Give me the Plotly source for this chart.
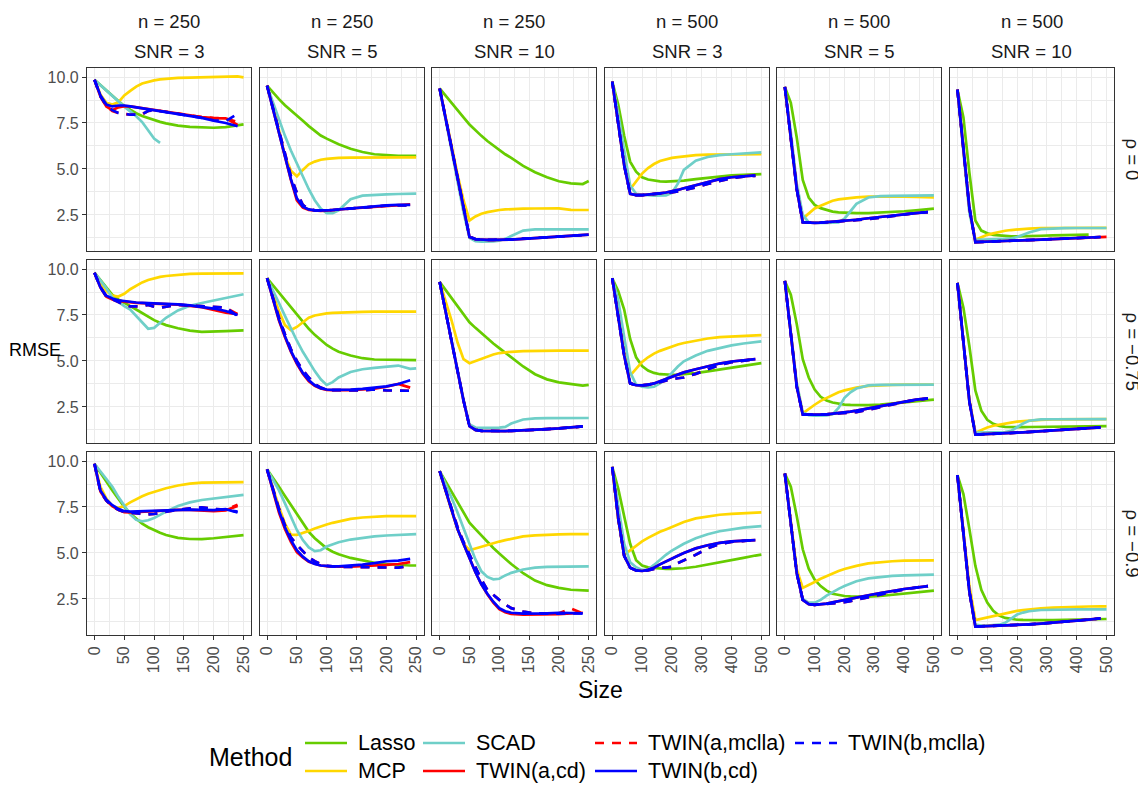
import plotly.graph_objects as go

N = None

# ---------------- data ----------------
X_SMALL = [0, 10, 20, 30, 40, 50, 60, 70, 80, 90, 100, 110, 120, 140, 160, 180, 200, 220, 240, 250]
X_LARGE = [0, 20, 40, 60, 80, 100, 120, 140, 160, 180, 200, 220, 240, 280, 320, 360, 400, 440, 480, 500]

N_LABELS = ["n = 250", "n = 250", "n = 250", "n = 500", "n = 500", "n = 500"]
SNR_LABELS = ["SNR = 3", "SNR = 5", "SNR = 10", "SNR = 3", "SNR = 5", "SNR = 10"]
RHO_LABELS = ["\u03c1 = 0", "\u03c1 = \u22120.75", "\u03c1 = \u22120.9"]

METHODS = ["Lasso", "MCP", "SCAD", "TWIN(a,cd)", "TWIN(a,mclla)", "TWIN(b,cd)", "TWIN(b,mclla)"]

Y_TICKS = [2.5, 5.0, 7.5, 10.0]
Y_TICKTEXT = ["2.5", "5.0", "7.5", "10.0"]
X_TICKS_SMALL = [0, 50, 100, 150, 200, 250]
X_TICKS_LARGE = [0, 100, 200, 300, 400, 500]

# ---- rho = 0 ----
LASSO_R1 = [
    [9.85, 9.55, 9.27, 8.98, 8.70, 8.42, 8.22, 8.03, 7.88, 7.76, 7.66, 7.56, 7.48, 7.36, 7.29, 7.25, 7.24, 7.28, 7.36, 7.42],
    [9.53, 9.15, 8.80, 8.47, 8.17, 7.90, 7.62, 7.33, 7.05, 6.82, 6.65, 6.50, 6.35, 6.10, 5.92, 5.80, 5.74, 5.72, 5.72, 5.72],
    [9.38, 9.00, 8.60, 8.20, 7.80, 7.42, 7.10, 6.80, 6.52, 6.27, 6.03, 5.80, 5.60, 5.17, 4.82, 4.55, 4.33, 4.22, 4.18, 4.35],
    [9.75, 8.50, 6.80, 5.40, 4.85, 4.55, 4.43, 4.37, 4.33, 4.31, 4.32, 4.34, 4.37, 4.45, 4.52, 4.60, 4.65, 4.68, 4.70, 4.72],
    [9.46, 8.60, 6.70, 4.40, 3.45, 3.05, 2.87, 2.76, 2.68, 2.64, 2.62, 2.61, 2.60, 2.60, 2.62, 2.66, 2.70, 2.75, 2.80, 2.84],
    [9.31, 7.80, 4.80, 2.20, 1.65, 1.50, 1.42, 1.38, 1.35, 1.34, 1.34, 1.34, 1.35, 1.37, 1.39, 1.41, 1.42, 1.43, N, N],
]
MCP_R1 = [
    [9.85, 9.05, 8.60, 8.50, 8.62, 9.00, 9.25, 9.48, 9.65, 9.75, 9.82, 9.87, 9.90, 9.95, 9.97, 9.98, 9.99, 10.00, 10.03, 9.98],
    [9.53, 8.40, 7.10, 5.70, 4.90, 4.60, 4.95, 5.25, 5.40, 5.50, 5.55, 5.58, 5.60, 5.62, 5.63, 5.63, 5.63, 5.63, 5.63, 5.63],
    [9.38, 7.80, 6.20, 4.70, 3.30, 2.20, 2.42, 2.57, 2.65, 2.72, 2.77, 2.80, 2.82, 2.84, 2.85, 2.86, 2.86, 2.78, 2.77, 2.77],
    [9.75, 7.60, 5.30, 3.90, 4.35, 4.75, 5.05, 5.27, 5.43, 5.53, 5.60, 5.64, 5.68, 5.75, 5.78, 5.79, 5.80, 5.80, 5.80, 5.80],
    [9.46, 6.80, 4.00, 2.30, 2.60, 2.85, 3.00, 3.15, 3.27, 3.35, 3.40, 3.43, 3.46, 3.50, 3.51, 3.51, 3.50, 3.48, 3.47, 3.46],
    [9.31, 6.00, 2.80, 1.15, 1.30, 1.42, 1.50, 1.58, 1.64, 1.68, 1.72, 1.74, 1.76, 1.79, 1.80, 1.80, 1.80, 1.80, 1.80, 1.80],
]
SCAD_R1 = [
    [9.85, 9.55, 9.25, 8.97, 8.68, 8.39, 8.13, 7.87, 7.55, 7.08, 6.65, 6.42, N, N, N, N, N, N, N, N],
    [9.53, 8.60, 7.70, 6.80, 6.00, 5.30, 4.60, 3.90, 3.30, 2.85, 2.60, 2.60, 2.75, 3.35, 3.55, 3.60, 3.62, 3.64, 3.66, 3.66],
    [9.38, 7.70, 6.00, 4.30, 2.65, 1.25, 1.08, 1.05, 1.05, 1.06, 1.10, 1.20, 1.35, 1.65, 1.72, 1.72, 1.72, 1.72, 1.72, 1.72],
    [9.75, 8.00, 6.00, 4.10, 3.65, 3.60, 3.57, 3.55, 3.54, 3.56, 3.70, 4.20, 4.95, 5.45, 5.65, 5.75, 5.80, 5.85, 5.88, 5.90],
    [9.46, 7.00, 4.20, 2.50, 2.10, 2.07, 2.07, 2.07, 2.08, 2.10, 2.30, 2.70, 3.10, 3.45, 3.52, 3.54, 3.55, 3.55, 3.56, 3.56],
    [9.31, 5.90, 2.60, 1.15, 1.15, 1.17, 1.18, 1.19, 1.20, 1.22, 1.30, 1.42, 1.55, 1.73, 1.77, 1.78, 1.79, 1.79, 1.79, 1.79],
]
TWIN_A_CD_R1 = [
    [9.85, 8.95, 8.40, 8.20, 8.35, 8.42, 8.40, 8.35, 8.30, 8.25, 8.20, 8.15, 8.10, 8.00, 7.90, 7.82, 7.77, 7.75, 7.40, N],
    [9.53, 8.25, 6.95, 5.65, 4.40, 3.30, 2.90, 2.78, 2.73, 2.72, 2.73, 2.75, 2.78, 2.85, 2.90, 2.95, 3.00, 3.05, 3.08, N],
    [9.38, 7.75, 6.10, 4.50, 2.85, 1.30, 1.18, 1.15, 1.14, 1.14, 1.14, 1.15, 1.16, 1.20, 1.24, 1.28, 1.32, 1.35, 1.40, 1.43],
    [9.75, 7.50, 5.20, 3.65, 3.58, 3.58, 3.60, 3.63, 3.67, 3.72, 3.78, 3.86, 3.95, 4.12, 4.30, 4.45, 4.55, 4.60, 4.65, N],
    [9.46, 6.70, 3.90, 2.10, 2.07, 2.07, 2.08, 2.10, 2.12, 2.15, 2.18, 2.21, 2.24, 2.32, 2.40, 2.48, 2.55, 2.60, 2.66, N],
    [9.31, 6.00, 2.90, 1.02, 1.03, 1.04, 1.05, 1.06, 1.08, 1.09, 1.10, 1.11, 1.13, 1.16, 1.19, 1.22, 1.25, 1.27, 1.30, 1.31],
]
TWIN_A_MCLLA_R1 = [
    [9.85, 8.95, 8.40, 8.15, 8.05, 7.98, 7.95, 7.95, 7.98, 8.15, 8.20, 8.15, 8.10, 8.00, 7.90, 7.82, 7.77, 7.75, 7.55, N],
    [9.53, 8.35, 7.10, 5.85, 4.60, 3.70, 3.05, 2.82, 2.75, 2.74, 2.75, 2.77, 2.80, 2.85, 2.90, 2.95, 3.00, 3.02, 3.03, N],
    [9.38, 7.75, 6.10, 4.50, 2.85, 1.32, 1.19, 1.16, 1.15, 1.15, 1.15, 1.16, 1.17, 1.21, 1.25, 1.29, 1.33, 1.36, 1.40, 1.42],
    [9.75, 7.50, 5.20, 3.65, 3.58, 3.58, 3.60, 3.62, 3.65, 3.68, 3.72, 3.78, 3.85, 4.00, 4.18, 4.35, 4.50, 4.58, 4.63, N],
    [9.46, 6.70, 3.90, 2.10, 2.07, 2.07, 2.08, 2.10, 2.12, 2.15, 2.18, 2.20, 2.22, 2.27, 2.35, 2.45, 2.53, 2.60, 2.65, N],
    [9.31, 6.00, 2.90, 1.02, 1.03, 1.04, 1.05, 1.06, 1.08, 1.09, 1.10, 1.11, 1.13, 1.16, 1.19, 1.22, 1.25, 1.27, 1.30, N],
]
TWIN_B_CD_R1 = [
    [9.85, 9.00, 8.50, 8.40, 8.45, 8.45, 8.40, 8.35, 8.30, 8.25, 8.20, 8.15, 8.10, 8.00, 7.90, 7.78, 7.62, 7.50, 7.32, N],
    [9.53, 8.30, 7.00, 5.70, 4.45, 3.40, 2.95, 2.80, 2.75, 2.74, 2.75, 2.77, 2.80, 2.87, 2.92, 2.97, 3.02, 3.05, 3.05, N],
    [9.38, 7.75, 6.10, 4.50, 2.85, 1.30, 1.18, 1.15, 1.14, 1.14, 1.14, 1.15, 1.16, 1.20, 1.24, 1.28, 1.32, 1.35, 1.40, 1.43],
    [9.75, 7.50, 5.20, 3.65, 3.58, 3.58, 3.60, 3.63, 3.67, 3.72, 3.78, 3.86, 3.95, 4.12, 4.30, 4.45, 4.55, 4.60, 4.65, N],
    [9.46, 6.70, 3.90, 2.10, 2.07, 2.07, 2.08, 2.10, 2.12, 2.15, 2.18, 2.21, 2.24, 2.32, 2.40, 2.48, 2.55, 2.60, 2.66, N],
    [9.31, 6.00, 2.90, 1.02, 1.03, 1.04, 1.05, 1.06, 1.08, 1.09, 1.10, 1.11, 1.13, 1.16, 1.19, 1.22, 1.25, 1.27, 1.30, N],
]
TWIN_B_MCLLA_R1 = [
    [9.85, 8.95, 8.45, 8.20, 8.05, 7.98, 7.95, 7.95, 7.98, 8.15, 8.20, 8.15, 8.10, 8.00, 7.90, 7.78, 7.65, 7.60, 8.00, N],
    [9.53, 8.35, 7.10, 5.85, 4.60, 3.70, 3.05, 2.82, 2.75, 2.74, 2.75, 2.77, 2.80, 2.85, 2.90, 2.95, 3.00, 3.02, 3.03, N],
    [9.38, 7.75, 6.10, 4.50, 2.85, 1.32, 1.19, 1.16, 1.15, 1.15, 1.15, 1.16, 1.17, 1.21, 1.25, 1.29, 1.33, 1.36, 1.40, 1.42],
    [9.75, 7.50, 5.20, 3.65, 3.58, 3.58, 3.60, 3.62, 3.65, 3.68, 3.72, 3.78, 3.85, 4.00, 4.18, 4.35, 4.50, 4.58, 4.63, N],
    [9.46, 6.70, 3.90, 2.10, 2.07, 2.07, 2.08, 2.10, 2.12, 2.15, 2.18, 2.20, 2.22, 2.27, 2.35, 2.45, 2.53, 2.60, 2.65, N],
    [9.31, 6.00, 2.90, 1.02, 1.03, 1.04, 1.05, 1.06, 1.08, 1.09, 1.10, 1.11, 1.13, 1.16, 1.19, 1.22, 1.25, 1.27, 1.30, N],
]

# ---- rho = -0.75 ----
LASSO_R2 = [
    [9.80, 9.40, 8.95, 8.60, 8.35, 8.15, 7.98, 7.80, 7.60, 7.40, 7.22, 7.08, 6.95, 6.78, 6.65, 6.58, 6.58, 6.62, 6.65, 6.66],
    [9.50, 9.10, 8.70, 8.30, 7.90, 7.50, 7.10, 6.75, 6.42, 6.12, 5.87, 5.67, 5.50, 5.30, 5.15, 5.08, 5.06, 5.05, 5.05, 5.05],
    [9.30, 8.85, 8.40, 7.95, 7.52, 7.10, 6.80, 6.50, 6.22, 5.95, 5.70, 5.45, 5.20, 4.70, 4.28, 4.00, 3.84, 3.74, 3.66, 3.70],
    [9.50, 8.80, 7.80, 6.20, 5.20, 4.72, 4.48, 4.35, 4.28, 4.25, 4.25, 4.26, 4.28, 4.34, 4.43, 4.53, 4.63, 4.73, 4.83, 4.88],
    [9.35, 8.60, 7.00, 5.10, 4.10, 3.45, 3.05, 2.85, 2.74, 2.67, 2.63, 2.61, 2.60, 2.60, 2.63, 2.68, 2.74, 2.80, 2.87, 2.90],
    [9.25, 7.90, 5.80, 3.40, 2.30, 1.80, 1.58, 1.47, 1.42, 1.40, 1.40, 1.40, 1.41, 1.42, 1.43, 1.44, 1.45, 1.45, 1.46, 1.46],
]
MCP_R2 = [
    [9.80, 9.20, 8.80, 8.55, 8.50, 8.65, 8.90, 9.10, 9.27, 9.40, 9.50, 9.57, 9.62, 9.70, 9.74, 9.75, 9.76, 9.76, 9.76, 9.76],
    [9.50, 8.60, 7.70, 6.95, 6.68, 6.85, 7.10, 7.35, 7.47, 7.54, 7.59, 7.61, 7.63, 7.65, 7.67, 7.68, 7.68, 7.68, 7.68, 7.68],
    [9.30, 8.30, 7.20, 6.00, 5.10, 4.88, 5.00, 5.12, 5.25, 5.35, 5.43, 5.47, 5.50, 5.53, 5.55, 5.56, 5.56, 5.56, 5.56, 5.56],
    [9.50, 7.50, 5.50, 4.20, 4.60, 4.95, 5.20, 5.40, 5.55, 5.68, 5.80, 5.90, 5.98, 6.12, 6.22, 6.30, 6.34, 6.37, 6.39, 6.40],
    [9.35, 6.40, 3.70, 2.15, 2.40, 2.62, 2.83, 3.00, 3.17, 3.30, 3.40, 3.48, 3.55, 3.65, 3.69, 3.70, 3.71, 3.71, 3.71, 3.71],
    [9.25, 6.00, 2.90, 1.10, 1.25, 1.38, 1.48, 1.55, 1.60, 1.65, 1.70, 1.73, 1.76, 1.80, 1.82, 1.83, 1.84, 1.84, 1.84, 1.84],
]
SCAD_R2 = [
    [9.80, 9.40, 8.95, 8.45, 8.20, 7.98, 7.80, 7.45, 7.05, 6.75, 6.80, 7.05, 7.35, 7.75, 8.00, 8.15, 8.28, 8.40, 8.55, 8.63],
    [9.50, 8.85, 8.15, 7.45, 6.75, 6.10, 5.50, 4.95, 4.45, 4.00, 3.70, 3.85, 4.10, 4.40, 4.55, 4.62, 4.68, 4.75, 4.57, 4.60],
    [9.30, 7.70, 6.05, 4.45, 2.90, 1.55, 1.38, 1.36, 1.36, 1.37, 1.38, 1.42, 1.60, 1.82, 1.88, 1.89, 1.90, 1.90, 1.90, 1.90],
    [9.50, 8.30, 6.30, 4.40, 3.72, 3.60, 3.57, 3.60, 3.78, 4.00, 4.35, 4.70, 4.98, 5.30, 5.55, 5.72, 5.85, 5.95, 6.03, 6.07],
    [9.35, 6.50, 3.80, 2.20, 2.05, 2.03, 2.03, 2.04, 2.10, 2.45, 3.00, 3.30, 3.50, 3.67, 3.70, 3.71, 3.71, 3.71, 3.71, 3.71],
    [9.25, 6.00, 2.80, 1.10, 1.10, 1.11, 1.12, 1.12, 1.13, 1.20, 1.42, 1.60, 1.75, 1.82, 1.83, 1.84, 1.84, 1.84, 1.84, 1.84],
]
TWIN_A_CD_R2 = [
    [9.80, 9.00, 8.50, 8.35, 8.27, 8.22, 8.18, 8.16, 8.14, 8.13, 8.12, 8.11, 8.10, 8.06, 8.00, 7.92, 7.78, 7.62, 7.55, N],
    [9.50, 8.30, 7.20, 6.30, 5.50, 4.85, 4.30, 3.90, 3.65, 3.50, 3.43, 3.41, 3.40, 3.42, 3.46, 3.50, 3.60, 3.75, 3.55, N],
    [9.30, 7.65, 6.00, 4.40, 2.85, 1.45, 1.25, 1.20, 1.19, 1.19, 1.19, 1.19, 1.20, 1.22, 1.25, 1.29, 1.33, 1.38, 1.44, N],
    [9.50, 7.40, 5.30, 3.78, 3.68, 3.67, 3.70, 3.78, 3.90, 4.03, 4.15, 4.27, 4.38, 4.55, 4.72, 4.86, 4.97, 5.05, 5.10, N],
    [9.35, 6.30, 3.60, 2.08, 2.07, 2.07, 2.08, 2.10, 2.13, 2.17, 2.21, 2.25, 2.30, 2.42, 2.55, 2.68, 2.80, 2.90, 2.97, N],
    [9.25, 6.00, 2.80, 1.00, 1.01, 1.02, 1.04, 1.05, 1.07, 1.08, 1.10, 1.12, 1.14, 1.18, 1.22, 1.26, 1.30, 1.35, 1.39, N],
]
TWIN_A_MCLLA_R2 = [
    [9.80, 9.00, 8.50, 8.35, 8.20, 8.05, 7.97, 7.95, 7.97, 8.05, 7.95, 7.90, 7.95, 8.05, 8.02, 7.97, 7.95, 7.90, 7.55, N],
    [9.50, 8.40, 7.35, 6.45, 5.65, 5.00, 4.50, 4.10, 3.75, 3.55, 3.45, 3.42, 3.40, 3.40, 3.40, 3.45, 3.40, 3.38, 3.38, N],
    [9.30, 7.65, 6.00, 4.40, 2.85, 1.45, 1.25, 1.20, 1.19, 1.19, 1.19, 1.19, 1.20, 1.22, 1.25, 1.29, 1.33, 1.38, 1.44, N],
    [9.50, 7.40, 5.30, 3.78, 3.68, 3.67, 3.70, 3.76, 3.85, 3.95, 4.02, 4.06, 4.10, 4.30, 4.55, 4.78, 4.93, 5.03, 5.10, N],
    [9.35, 6.30, 3.60, 2.08, 2.07, 2.07, 2.08, 2.10, 2.12, 2.15, 2.18, 2.20, 2.22, 2.35, 2.50, 2.63, 2.77, 2.88, 2.96, N],
    [9.25, 6.00, 2.80, 1.00, 1.01, 1.02, 1.04, 1.05, 1.07, 1.08, 1.10, 1.12, 1.14, 1.18, 1.22, 1.26, 1.30, 1.35, 1.39, N],
]
TWIN_B_CD_R2 = [
    [9.80, 9.00, 8.55, 8.40, 8.30, 8.25, 8.20, 8.18, 8.16, 8.15, 8.14, 8.13, 8.12, 8.08, 8.02, 7.95, 7.85, 7.72, 7.50, N],
    [9.50, 8.35, 7.25, 6.35, 5.55, 4.90, 4.35, 3.95, 3.68, 3.52, 3.45, 3.43, 3.42, 3.44, 3.48, 3.53, 3.62, 3.75, 3.95, N],
    [9.30, 7.65, 6.00, 4.40, 2.85, 1.45, 1.25, 1.20, 1.19, 1.19, 1.19, 1.19, 1.20, 1.22, 1.25, 1.29, 1.33, 1.38, 1.44, N],
    [9.50, 7.40, 5.30, 3.78, 3.68, 3.67, 3.70, 3.78, 3.90, 4.03, 4.15, 4.27, 4.38, 4.55, 4.72, 4.86, 4.97, 5.05, 5.10, N],
    [9.35, 6.30, 3.60, 2.08, 2.07, 2.07, 2.08, 2.10, 2.13, 2.17, 2.21, 2.25, 2.30, 2.42, 2.55, 2.68, 2.80, 2.90, 2.97, N],
    [9.25, 6.00, 2.80, 1.00, 1.01, 1.02, 1.04, 1.05, 1.07, 1.08, 1.10, 1.12, 1.14, 1.18, 1.22, 1.26, 1.30, 1.35, 1.39, N],
]
TWIN_B_MCLLA_R2 = [
    [9.80, 9.00, 8.50, 8.35, 8.20, 8.05, 7.97, 7.95, 7.97, 8.05, 7.95, 7.90, 7.95, 8.05, 8.02, 7.97, 7.95, 7.90, 7.45, N],
    [9.50, 8.40, 7.35, 6.45, 5.65, 5.00, 4.50, 4.10, 3.75, 3.55, 3.45, 3.42, 3.40, 3.40, 3.40, 3.45, 3.40, 3.38, 3.38, N],
    [9.30, 7.65, 6.00, 4.40, 2.85, 1.45, 1.25, 1.20, 1.19, 1.19, 1.19, 1.19, 1.20, 1.22, 1.25, 1.29, 1.33, 1.38, 1.44, N],
    [9.50, 7.40, 5.30, 3.78, 3.68, 3.67, 3.70, 3.76, 3.85, 3.95, 4.02, 4.06, 4.10, 4.30, 4.55, 4.78, 4.93, 5.03, 5.10, N],
    [9.35, 6.30, 3.60, 2.08, 2.07, 2.07, 2.08, 2.10, 2.12, 2.15, 2.18, 2.20, 2.22, 2.35, 2.50, 2.63, 2.77, 2.88, 2.96, N],
    [9.25, 6.00, 2.80, 1.00, 1.01, 1.02, 1.04, 1.05, 1.07, 1.08, 1.10, 1.12, 1.14, 1.18, 1.22, 1.26, 1.30, 1.35, 1.39, N],
]

# ---- rho = -0.9 ----
LASSO_R3 = [
    [9.85, 9.35, 8.85, 8.40, 7.95, 7.50, 7.15, 6.85, 6.60, 6.40, 6.23, 6.10, 5.98, 5.82, 5.76, 5.75, 5.80, 5.86, 5.93, 5.97],
    [9.55, 9.10, 8.60, 8.10, 7.60, 7.10, 6.60, 6.15, 5.80, 5.50, 5.25, 5.07, 4.93, 4.73, 4.58, 4.47, 4.40, 4.35, 4.32, 4.32],
    [9.45, 8.90, 8.35, 7.80, 7.20, 6.65, 6.30, 5.95, 5.60, 5.27, 4.97, 4.68, 4.40, 3.90, 3.50, 3.25, 3.10, 3.00, 2.96, 2.95],
    [9.68, 8.50, 7.00, 5.50, 4.60, 4.32, 4.22, 4.18, 4.15, 4.14, 4.14, 4.15, 4.17, 4.25, 4.36, 4.48, 4.60, 4.73, 4.86, 4.91],
    [9.32, 8.60, 7.00, 5.20, 4.15, 3.55, 3.20, 2.95, 2.78, 2.70, 2.66, 2.64, 2.63, 2.63, 2.66, 2.72, 2.78, 2.84, 2.90, 2.95],
    [9.23, 8.20, 6.30, 4.30, 3.00, 2.30, 1.85, 1.60, 1.47, 1.40, 1.37, 1.36, 1.35, 1.34, 1.35, 1.36, 1.37, 1.39, 1.40, 1.41],
]
MCP_R3 = [
    [9.85, 8.60, 7.95, 7.55, 7.45, 7.55, 7.75, 7.93, 8.08, 8.22, 8.33, 8.43, 8.52, 8.67, 8.77, 8.82, 8.84, 8.85, 8.85, 8.85],
    [9.55, 8.50, 7.50, 6.60, 6.00, 5.98, 6.08, 6.20, 6.33, 6.45, 6.55, 6.64, 6.72, 6.85, 6.93, 6.98, 7.00, 7.00, 7.00, 7.00],
    [9.45, 8.35, 7.30, 6.30, 5.50, 5.15, 5.25, 5.35, 5.45, 5.53, 5.62, 5.70, 5.78, 5.90, 5.96, 6.00, 6.01, 6.02, 6.02, 6.02],
    [9.68, 6.80, 4.90, 5.15, 5.40, 5.63, 5.82, 6.00, 6.15, 6.28, 6.42, 6.55, 6.68, 6.88, 7.00, 7.08, 7.13, 7.17, 7.20, 7.21],
    [9.32, 6.70, 4.10, 3.10, 3.25, 3.42, 3.60, 3.75, 3.90, 4.02, 4.13, 4.22, 4.30, 4.43, 4.50, 4.55, 4.58, 4.59, 4.60, 4.60],
    [9.23, 6.20, 3.20, 1.35, 1.42, 1.52, 1.60, 1.67, 1.73, 1.79, 1.85, 1.89, 1.93, 1.99, 2.03, 2.06, 2.08, 2.09, 2.10, 2.10],
]
SCAD_R3 = [
    [9.85, 9.45, 9.05, 8.60, 8.05, 7.55, 7.10, 6.80, 6.72, 6.78, 6.90, 7.07, 7.25, 7.55, 7.75, 7.88, 7.97, 8.05, 8.12, 8.16],
    [9.55, 9.00, 8.40, 7.70, 6.95, 6.25, 5.70, 5.30, 5.10, 5.15, 5.35, 5.48, 5.58, 5.73, 5.83, 5.90, 5.95, 5.98, 6.00, 6.02],
    [9.45, 8.75, 8.00, 7.20, 6.35, 5.50, 4.65, 4.00, 3.70, 3.57, 3.60, 3.78, 3.92, 4.10, 4.20, 4.24, 4.26, 4.27, 4.27, 4.27],
    [9.68, 7.50, 5.50, 4.50, 4.22, 4.08, 4.10, 4.35, 4.65, 4.90, 5.13, 5.33, 5.50, 5.80, 6.02, 6.18, 6.30, 6.38, 6.43, 6.46],
    [9.32, 6.60, 3.90, 2.50, 2.30, 2.30, 2.45, 2.68, 2.88, 3.05, 3.20, 3.34, 3.46, 3.62, 3.70, 3.75, 3.78, 3.80, 3.82, 3.82],
    [9.23, 6.00, 2.90, 1.10, 1.05, 1.05, 1.07, 1.10, 1.20, 1.45, 1.65, 1.76, 1.83, 1.90, 1.92, 1.93, 1.93, 1.93, 1.93, 1.93],
]
TWIN_A_CD_R3 = [
    [9.85, 8.35, 7.85, 7.55, 7.35, 7.22, 7.20, 7.22, 7.24, 7.26, 7.28, 7.30, 7.32, 7.34, 7.34, 7.30, 7.28, 7.32, 7.55, N],
    [9.55, 8.40, 7.20, 6.30, 5.60, 5.05, 4.75, 4.52, 4.40, 4.32, 4.28, 4.26, 4.25, 4.25, 4.27, 4.30, 4.35, 4.40, 4.50, N],
    [9.45, 8.40, 7.35, 6.30, 5.50, 4.70, 3.95, 3.30, 2.75, 2.30, 1.95, 1.78, 1.68, 1.65, 1.65, 1.66, 1.68, 1.72, 1.75, N],
    [9.68, 6.90, 4.85, 4.20, 4.05, 4.02, 4.08, 4.20, 4.38, 4.55, 4.70, 4.85, 5.00, 5.25, 5.42, 5.55, 5.63, 5.68, 5.70, N],
    [9.32, 6.60, 3.90, 2.45, 2.22, 2.18, 2.20, 2.25, 2.31, 2.38, 2.44, 2.50, 2.56, 2.70, 2.82, 2.94, 3.04, 3.12, 3.20, N],
    [9.23, 6.00, 2.90, 1.00, 1.01, 1.02, 1.03, 1.04, 1.06, 1.07, 1.09, 1.10, 1.12, 1.16, 1.20, 1.26, 1.32, 1.38, 1.44, N],
]
TWIN_A_MCLLA_R3 = [
    [9.85, 8.35, 7.85, 7.55, 7.35, 7.22, 7.18, 7.15, 7.12, 7.10, 7.12, 7.18, 7.25, 7.35, 7.42, 7.48, 7.40, 7.35, 7.62, N],
    [9.55, 8.50, 7.40, 6.50, 5.85, 5.45, 5.10, 4.75, 4.55, 4.40, 4.30, 4.27, 4.25, 4.24, 4.24, 4.24, 4.22, 4.20, 4.30, N],
    [9.45, 8.40, 7.40, 6.40, 5.60, 4.90, 4.20, 3.55, 3.00, 2.70, 2.45, 2.20, 2.00, 1.82, 1.72, 1.70, 1.72, 1.98, 1.72, N],
    [9.68, 6.90, 4.85, 4.20, 4.05, 4.02, 4.05, 4.12, 4.20, 4.20, 4.25, 4.45, 4.60, 4.90, 5.25, 5.48, 5.60, 5.67, 5.70, N],
    [9.32, 6.60, 3.90, 2.45, 2.22, 2.18, 2.20, 2.23, 2.26, 2.28, 2.32, 2.38, 2.45, 2.58, 2.75, 2.90, 3.02, 3.12, 3.20, N],
    [9.23, 6.00, 2.90, 1.00, 1.01, 1.02, 1.03, 1.04, 1.06, 1.07, 1.09, 1.10, 1.12, 1.16, 1.20, 1.26, 1.32, 1.38, 1.44, N],
]
TWIN_B_CD_R3 = [
    [9.85, 8.40, 7.90, 7.60, 7.40, 7.27, 7.25, 7.26, 7.27, 7.28, 7.30, 7.32, 7.34, 7.36, 7.36, 7.34, 7.33, 7.38, 7.20, N],
    [9.55, 8.45, 7.30, 6.40, 5.70, 5.15, 4.80, 4.55, 4.40, 4.32, 4.28, 4.27, 4.27, 4.30, 4.37, 4.45, 4.55, 4.58, 4.68, N],
    [9.45, 8.40, 7.35, 6.30, 5.50, 4.70, 3.95, 3.30, 2.78, 2.35, 2.00, 1.83, 1.75, 1.70, 1.70, 1.72, 1.75, 1.75, 1.72, N],
    [9.68, 6.90, 4.85, 4.20, 4.05, 4.02, 4.08, 4.20, 4.38, 4.55, 4.70, 4.85, 5.00, 5.25, 5.42, 5.55, 5.63, 5.68, 5.70, N],
    [9.32, 6.60, 3.90, 2.45, 2.22, 2.18, 2.20, 2.25, 2.31, 2.38, 2.44, 2.50, 2.56, 2.70, 2.82, 2.94, 3.04, 3.12, 3.20, N],
    [9.23, 6.00, 2.90, 1.00, 1.01, 1.02, 1.03, 1.04, 1.06, 1.07, 1.09, 1.10, 1.12, 1.16, 1.20, 1.26, 1.32, 1.38, 1.44, N],
]
TWIN_B_MCLLA_R3 = [
    [9.85, 8.35, 7.85, 7.55, 7.35, 7.22, 7.18, 7.15, 7.12, 7.10, 7.12, 7.18, 7.25, 7.35, 7.42, 7.48, 7.40, 7.35, 7.25, N],
    [9.55, 8.50, 7.40, 6.50, 5.85, 5.45, 5.10, 4.75, 4.55, 4.40, 4.30, 4.27, 4.25, 4.24, 4.24, 4.24, 4.22, 4.20, 4.30, N],
    [9.45, 8.40, 7.40, 6.40, 5.60, 4.90, 4.20, 3.55, 3.00, 2.70, 2.45, 2.20, 2.00, 1.82, 1.72, 1.70, 1.72, 1.70, 1.72, N],
    [9.68, 6.90, 4.85, 4.20, 4.05, 4.02, 4.05, 4.12, 4.20, 4.20, 4.25, 4.45, 4.60, 4.90, 5.25, 5.48, 5.60, 5.67, 5.70, N],
    [9.32, 6.60, 3.90, 2.45, 2.22, 2.18, 2.20, 2.23, 2.26, 2.28, 2.32, 2.38, 2.45, 2.58, 2.75, 2.90, 3.02, 3.12, 3.20, N],
    [9.23, 6.00, 2.90, 1.00, 1.01, 1.02, 1.03, 1.04, 1.06, 1.07, 1.09, 1.10, 1.12, 1.16, 1.20, 1.26, 1.32, 1.38, 1.44, N],
]

SERIES = {
    "Lasso": [LASSO_R1, LASSO_R2, LASSO_R3],
    "MCP": [MCP_R1, MCP_R2, MCP_R3],
    "SCAD": [SCAD_R1, SCAD_R2, SCAD_R3],
    "TWIN(a,cd)": [TWIN_A_CD_R1, TWIN_A_CD_R2, TWIN_A_CD_R3],
    "TWIN(a,mclla)": [TWIN_A_MCLLA_R1, TWIN_A_MCLLA_R2, TWIN_A_MCLLA_R3],
    "TWIN(b,cd)": [TWIN_B_CD_R1, TWIN_B_CD_R2, TWIN_B_CD_R3],
    "TWIN(b,mclla)": [TWIN_B_MCLLA_R1, TWIN_B_MCLLA_R2, TWIN_B_MCLLA_R3],
}

# ---------------- style ----------------
COLORS = {
    "Lasso": "#66CC00", "MCP": "#FFD700", "SCAD": "#6FCFC8",
    "TWIN(a,cd)": "#FF0000", "TWIN(a,mclla)": "#FF0000",
    "TWIN(b,cd)": "#0000FF", "TWIN(b,mclla)": "#0000FF",
}
DASHES = {
    "Lasso": "solid", "MCP": "solid", "SCAD": "solid",
    "TWIN(a,cd)": "solid", "TWIN(a,mclla)": "9px,8px",
    "TWIN(b,cd)": "solid", "TWIN(b,mclla)": "9px,8px",
}
LW = 2.7
FONT = "Liberation Sans, Arial, Helvetica, sans-serif"
GRID = "#EBEBEB"
BORDER = "#333333"

# The page body has an 8px margin: the figure starts at (8, 8) in the window.
OFF = 8
W, H = 1146 - OFF, 787 - OFF


def px(x):
    return (x - OFF) / W


def py(y):
    return 1 - (y - OFF) / H


COL_LEFT = [87 + c * 172.6 for c in range(6)]
PANEL_W = 164
ROW_TOP = [68, 260, 452]
PANEL_H = 183

fig = go.Figure()
layout = {}

for r in range(3):
    for c in range(6):
        idx = r * 6 + c + 1
        xs = X_SMALL if c < 3 else X_LARGE
        xa = "x" if idx == 1 else f"x{idx}"
        ya = "y" if idx == 1 else f"y{idx}"
        for name in METHODS:
            fig.add_trace(go.Scatter(
                x=xs, y=SERIES[name][r][c], mode="lines", name=name,
                line=dict(color=COLORS[name], width=LW, dash=DASHES[name]),
                xaxis=xa, yaxis=ya, showlegend=False, hoverinfo="skip",
            ))
        left = COL_LEFT[c]
        top = ROW_TOP[r]
        xdom = [px(left), px(left + PANEL_W)]
        ydom = [py(top + PANEL_H), py(top)]
        small = c < 3
        bottom = r == 2
        first = c == 0
        xticks = X_TICKS_SMALL if small else X_TICKS_LARGE
        xminor = [25, 75, 125, 175, 225] if small else [50, 150, 250, 350, 450]
        layout["xaxis" if idx == 1 else f"xaxis{idx}"] = dict(
            domain=xdom, anchor=ya,
            range=[-12.5, 262.5] if small else [-25, 525],
            tickmode="array", tickvals=xticks, ticktext=[str(v) for v in xticks],
            showticklabels=bottom, ticks="outside" if bottom else "",
            ticklen=4, tickwidth=1.1, tickcolor=BORDER, tickangle=-90,
            tickfont=dict(size=16, color="#4D4D4D", family=FONT),
            showgrid=True, gridcolor=GRID, gridwidth=1.1,
            minor=dict(tickmode="array", tickvals=xminor, showgrid=True, gridcolor=GRID, gridwidth=0.6, ticks=""),
            showline=True, mirror=True, linecolor=BORDER, linewidth=1.1,
            zeroline=False, automargin=False, fixedrange=True,
        )
        layout["yaxis" if idx == 1 else f"yaxis{idx}"] = dict(
            domain=ydom, anchor=xa, range=[0.54, 10.49],
            tickmode="array", tickvals=Y_TICKS, ticktext=Y_TICKTEXT,
            showticklabels=first, ticks="outside" if first else "",
            ticklen=4, tickwidth=1.1, tickcolor=BORDER,
            tickfont=dict(size=16, color="#4D4D4D", family=FONT),
            showgrid=True, gridcolor=GRID, gridwidth=1.1,
            minor=dict(tickmode="array", tickvals=[1.25, 3.75, 6.25, 8.75], showgrid=True, gridcolor=GRID, gridwidth=0.6, ticks=""),
            showline=True, mirror=True, linecolor=BORDER, linewidth=1.1,
            zeroline=False, automargin=False, fixedrange=True,
        )

annotations = []
# column strips
for c in range(6):
    cx = px(COL_LEFT[c] + PANEL_W / 2)
    annotations.append(dict(x=cx, y=py(21), xref="paper", yref="paper", text=N_LABELS[c],
                            showarrow=False, xanchor="center", yanchor="middle",
                            font=dict(size=18.5, color="#1A1A1A", family=FONT)))
    annotations.append(dict(x=cx, y=py(52), xref="paper", yref="paper", text=SNR_LABELS[c],
                            showarrow=False, xanchor="center", yanchor="middle",
                            font=dict(size=18.5, color="#1A1A1A", family=FONT)))
# row strips
for r in range(3):
    cy = py(ROW_TOP[r] + PANEL_H / 2)
    annotations.append(dict(x=px(1132), y=cy, xref="paper", yref="paper", text=RHO_LABELS[r],
                            showarrow=False, xanchor="center", yanchor="middle", textangle=90,
                            font=dict(size=18.5, color="#1A1A1A", family=FONT)))
# axis titles
annotations.append(dict(x=px(35), y=py(350), xref="paper", yref="paper", text="RMSE",
                        showarrow=False, xanchor="center", yanchor="middle",
                        font=dict(size=18, color="black", family=FONT)))
annotations.append(dict(x=px(600), y=py(690), xref="paper", yref="paper", text="Size",
                        showarrow=False, xanchor="center", yanchor="middle",
                        font=dict(size=23, color="black", family=FONT)))

# legend (two rows, filled column by column)
annotations.append(dict(x=px(207), y=py(757), xref="paper", yref="paper", text="Method",
                        showarrow=False, xanchor="left", yanchor="middle",
                        font=dict(size=25, color="black", family=FONT)))
LEG_COL_X = [305, 423, 595, 795]
LEG_ROW_Y = [743, 771]
shapes = []
for i, name in enumerate(METHODS):
    col, row = i // 2, i % 2
    kx = LEG_COL_X[col]
    ky = LEG_ROW_Y[row]
    shapes.append(dict(type="line", xref="paper", yref="paper",
                       x0=px(kx), x1=px(kx + 42), y0=py(ky), y1=py(ky),
                       line=dict(color=COLORS[name], width=LW, dash=DASHES[name])))
    annotations.append(dict(x=px(kx + 51), y=py(ky), xref="paper", yref="paper", text=name,
                            showarrow=False, xanchor="left", yanchor="middle",
                            font=dict(size=21.5, color="black", family=FONT)))

fig.update_layout(
    width=W, height=H, margin=dict(l=0, r=0, t=0, b=0),
    paper_bgcolor="white", plot_bgcolor="white",
    showlegend=False, annotations=annotations, shapes=shapes,
    font=dict(family=FONT),
    **layout,
)

fig.write_html("out.html")
